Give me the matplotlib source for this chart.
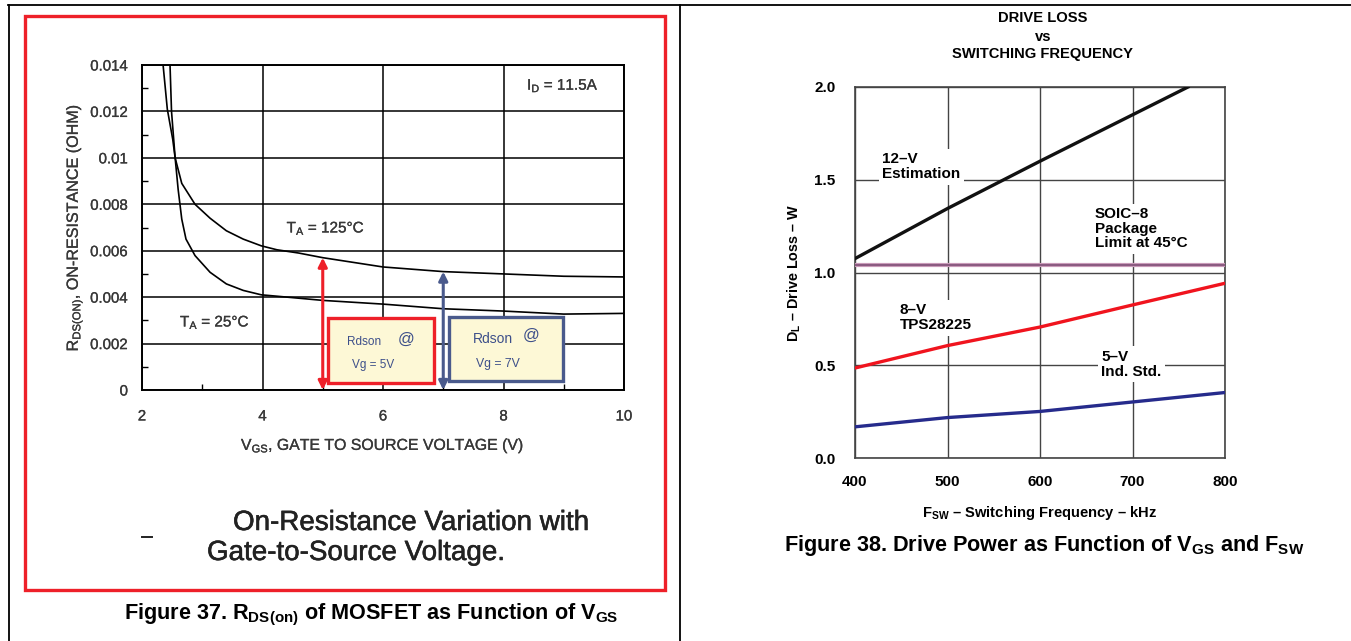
import matplotlib
matplotlib.use("Agg")
import matplotlib.pyplot as plt
import matplotlib.patheffects as pe
from matplotlib.patches import Rectangle

plt.rcParams['font.family'] = ['Liberation Sans', 'DejaVu Sans']
plt.rcParams['mathtext.fontset'] = 'custom'
plt.rcParams['mathtext.rm'] = 'Liberation Sans'
plt.rcParams['mathtext.bf'] = 'Liberation Sans:bold'
plt.rcParams['mathtext.it'] = 'Liberation Sans:italic'

W, H = 1351, 641

# --- Figure 37 data: Rds(on) vs Vgs ---
vgs_125 = [2.465, 2.49, 2.55, 2.66, 2.88, 3.13, 3.4, 3.68, 3.98, 4.24, 4.6, 5.0, 5.5,
           6.0, 7.0, 8.0, 9.0, 10.0]
rds_125 = [0.014, 0.012, 0.010, 0.0089, 0.0080, 0.0074, 0.00686, 0.0065, 0.00621, 0.00604,
           0.0059, 0.0057, 0.0055, 0.0053, 0.0051, 0.0050, 0.0049, 0.00487]
vgs_25 = [2.35, 2.42, 2.51, 2.55, 2.60, 2.66, 2.73, 2.88, 3.13, 3.4, 3.68, 3.98, 4.24,
          5.0, 6.0, 7.0, 8.0, 9.0, 10.0]
rds_25 = [0.014, 0.0121, 0.0108, 0.010, 0.00864, 0.00736, 0.0065, 0.00579, 0.00507,
          0.00457, 0.00429, 0.0041, 0.00404, 0.00386, 0.0037, 0.0035, 0.0034, 0.00327, 0.0033]
vgs_ticks = [2, 4, 6, 8, 10]
rds_ticks = [0, 0.002, 0.004, 0.006, 0.008, 0.01, 0.012, 0.014]
rds_tick_labels = ['0', '0.002', '0.004', '0.006', '0.008', '0.01', '0.012', '0.014']
marker_vgs = [5, 7]
marker_rds = [0.0057, 0.0051]

# --- Figure 38 data: drive loss vs switching frequency ---
fsw = [400, 500, 600, 700, 800]
loss_12v_f = [400, 500, 600, 700, 760]
loss_12v = [1.075, 1.345, 1.60, 1.85, 2.0]
loss_8v = [0.485, 0.606, 0.706, 0.825, 0.942]
loss_5v = [0.168, 0.218, 0.251, 0.302, 0.353]
soic_limit = 1.04
loss_ticks = [0.0, 0.5, 1.0, 1.5, 2.0]

TXT = '#383838'
RED = '#ee2029'
SLATE = '#4a5a8c'
BOXTXT = '#3d4f8a'
thick = [pe.withStroke(linewidth=0.2, foreground=TXT)]


def px_axes(fig, left, top, right, bottom):
    return fig.add_axes([left / W, 1 - bottom / H, (right - left) / W, (bottom - top) / H])


fig = plt.figure(figsize=(W / 100, H / 100), dpi=100)

# page background: table frame, red box, captions (pixel coordinates)
bg = fig.add_axes([0, 0, 1, 1])
bg.set_xlim(0, W)
bg.set_ylim(H, 0)
bg.axis('off')
bg.plot([8, W], [4.5, 4.5], color='black', lw=1.3, clip_on=False)
bg.plot([8.5, 8.5], [4.5, H], color='black', lw=1.3, clip_on=False)
bg.plot([679.5, 679.5], [4.5, H], color='black', lw=1.3, clip_on=False)
bg.add_patch(Rectangle((24.5, 15.5), 640, 574.5, fill=False, edgecolor=RED, lw=2.4))
bg.plot([142, 152], [537, 537], color='#222222', lw=1.4)
cap_fx = [pe.withStroke(linewidth=0.4, foreground='#222222')]
bg.text(233, 523, 'On-Resistance Variation with', fontsize=20, color='#222222',
        va='center', ha='left', path_effects=cap_fx)
bg.text(207, 553, 'Gate-to-Source Voltage.', fontsize=20, color='#222222',
        va='center', ha='left', path_effects=cap_fx)
bg.text(371, 615, r'Figure 37. R$_{\mathbf{DS(on)}}$ of MOSFET as Function of V$_{\mathbf{GS}}$',
        fontsize=15.6, fontweight='bold', ha='center', va='center')
bg.text(1044, 545, r'Figure 38. Drive Power as Function of V$_{\mathbf{GS}}$ and F$_{\mathbf{SW}}$',
        fontsize=15.6, fontweight='bold', ha='center', va='center')
for ty, tl in zip([18, 37, 54], ['DRIVE LOSS', 'vs', 'SWITCHING FREQUENCY']):
    bg.text(1043, ty, tl, fontsize=10.6, fontweight='bold', ha='center', va='center')

# ---------------- left chart ----------------
ax1 = px_axes(fig, 142, 65, 624, 390)
ax1.plot(vgs_125, rds_125, color='black', lw=1.2, zorder=3)
ax1.plot(vgs_25, rds_25, color='black', lw=1.2, zorder=3)
ax1.set_xlim(2, 10)
ax1.set_ylim(0, 0.014)
ax1.set_xticks(vgs_ticks)
ax1.set_xticklabels([str(v) for v in vgs_ticks])
ax1.set_yticks(rds_ticks)
ax1.set_yticklabels(rds_tick_labels)
ax1.set_xticks([3, 5, 7, 9], minor=True)
ax1.set_yticks([0.001, 0.003, 0.005, 0.007, 0.009, 0.011, 0.013], minor=True)
ax1.tick_params(which='major', length=0, labelsize=10.8, labelcolor=TXT)
ax1.tick_params(axis='y', which='major', pad=10)
ax1.tick_params(axis='x', which='major', pad=14)
ax1.tick_params(which='minor', direction='in', length=4, width=1, color='black')
for lbl in ax1.get_xticklabels() + ax1.get_yticklabels():
    lbl.set_path_effects(thick)
ax1.grid(True, which='major', color='black', lw=1.1)
for s in ax1.spines.values():
    s.set_linewidth(1.4)
ax1.set_xlabel(r'V$_{\rm GS}$, GATE TO SOURCE VOLTAGE (V)', fontsize=11.4, color=TXT,
               labelpad=9, path_effects=thick)
ax1.set_ylabel(r'R$_{\rm DS(ON)}$, ON-RESISTANCE (OHM)', fontsize=11.6, color=TXT,
               labelpad=4, path_effects=thick)

ax1.text(8.39, 0.0131, r'I$_{\rm D}$ = 11.5A', fontsize=11, color=TXT, va='center',
         path_effects=thick)
ax1.text(4.4, 0.00695, r'T$_{\rm A}$ = 125$\degree$C', fontsize=11, color=TXT, va='center',
         path_effects=thick)
ax1.text(2.63, 0.0029, r'T$_{\rm A}$ = 25$\degree$C', fontsize=11, color=TXT, va='center',
         path_effects=thick)

# marker arrows and annotation boxes
for v, r, c in zip(marker_vgs, marker_rds, [RED, SLATE]):
    ax1.annotate('', xy=(v, r), xytext=(v, 0),
                 arrowprops=dict(arrowstyle='<|-|>', color=c, lw=2.2, mutation_scale=13,
                                 shrinkA=0, shrinkB=0), zorder=5)
ax1.add_patch(Rectangle((5.08, 0.0003), 1.76, 0.0028, facecolor='#fdf8d6',
                        edgecolor=RED, lw=2.4, zorder=4))
ax1.add_patch(Rectangle((7.09, 0.0004), 1.9, 0.00276, facecolor='#fdf8d6',
                        edgecolor=SLATE, lw=2.4, zorder=4))
ax1.text(5.4, 0.00207, 'Rdson', fontsize=8.5, color=BOXTXT, va='center', zorder=6)
ax1.text(6.38, 0.0022, '@', fontsize=12, color=BOXTXT, va='center', ha='center', zorder=6)
ax1.text(5.48, 0.00107, 'Vg = 5V', fontsize=8.5, color=BOXTXT, va='center', zorder=6)
ax1.text(7.49, 0.0022, 'Rdson', fontsize=10, color=BOXTXT, va='center', zorder=6)
ax1.text(8.46, 0.00235, '@', fontsize=12, color=BOXTXT, va='center', ha='center', zorder=6)
ax1.text(7.55, 0.0011, 'Vg = 7V', fontsize=8.8, color=BOXTXT, va='center', zorder=6)

# ---------------- right chart ----------------
ax2 = px_axes(fig, 855, 87, 1225, 458)
ax2.set_xlim(400, 800)
ax2.set_ylim(0, 2.0)
ax2.set_xticks(fsw)
ax2.set_xticklabels([str(f) for f in fsw], fontweight='bold')
ax2.set_yticks(loss_ticks)
ax2.set_yticklabels(['%.1f' % v for v in loss_ticks], fontweight='bold')
ax2.tick_params(length=0, labelsize=11)
ax2.tick_params(axis='x', pad=12)
ax2.tick_params(axis='y', pad=14)
ax2.grid(True, color='#444444', lw=1.0, zorder=1)
ax2.set_axisbelow(True)
for s in ax2.spines.values():
    s.set_linewidth(1.2)
    s.set_color('#444444')

ax2.axhline(soic_limit, color='#c99bb9', lw=3, zorder=3)
ax2.axhline(soic_limit, color='#8a5a80', lw=1.4, zorder=3)
ax2.plot(loss_12v_f, loss_12v, color='#111111', lw=2.4, zorder=4)
ax2.plot(fsw, loss_8v, color='#f0141e', lw=2.4, zorder=4)
ax2.plot(fsw, loss_5v, color='#262b8c', lw=2.4, zorder=4)

bb = dict(facecolor='white', edgecolor='none', pad=2.5)
ax2.text(429.5, 1.57, '12–V\nEstimation', fontsize=11, fontweight='bold', va='center',
         ha='left', bbox=bb, linespacing=1.1, zorder=2)
ax2.text(659, 1.235, 'SOIC–8\nPackage\nLimit at 45°C', fontsize=11, fontweight='bold',
         va='center', ha='left', bbox=bb, linespacing=1.05, zorder=2)
ax2.text(448, 0.755, '8–V\nTPS28225', fontsize=11, fontweight='bold', va='center',
         ha='left', bbox=bb, linespacing=1.1, zorder=2)
ax2.text(666, 0.505, '5–V\nInd. Std.', fontsize=11, fontweight='bold', va='center',
         ha='left', bbox=bb, linespacing=1.1, zorder=2)

ax2.set_xlabel(r'F$_{\mathbf{SW}}$ – Switching Frequency – kHz', fontsize=10.6,
               fontweight='bold', labelpad=11)
ax2.set_ylabel(r'D$_{\mathbf{L}}$ – Drive Loss – W', fontsize=10.4, fontweight='bold',
               labelpad=8)

fig.savefig('out.png', dpi=100)
